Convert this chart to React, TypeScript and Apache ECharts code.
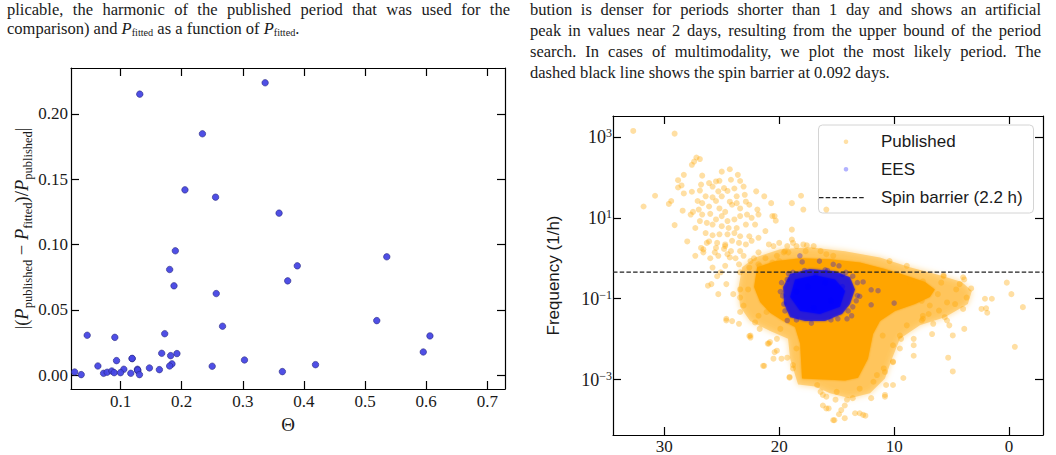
import React, { useEffect, useRef } from "react";
import * as echarts from "echarts";

// ---------- left panel: relative period deviation vs. Theta ----------
const thetaValues = [
  0.1315, 0.3366, 0.234, 0.2054, 0.2555, 0.3594, 0.1897, 0.5356, 0.1804, 0.3892,
  0.3735, 0.1875, 0.2566, 0.5192, 0.2669, 0.0455, 0.0907, 0.1723, 0.6062, 0.5953,
  0.1674, 0.1923, 0.182, 0.119, 0.119, 0.0935, 0.3028, 0.063, 0.419, 0.25,
  0.1842, 0.1804, 0.1473, 0.1636, 0.1054, 0.1277, 0.1282, 0.128, 0.025, 0.0357,
  0.0723, 0.0781, 0.0858, 0.0896, 0.1, 0.1168, 0.131, 0.3648,
];
const relDeviation = [
  0.215, 0.2237, 0.1847, 0.1418, 0.1362, 0.124, 0.0952, 0.0906, 0.0809, 0.0837,
  0.0722, 0.0684, 0.0625, 0.0418, 0.0375, 0.0306, 0.029, 0.0318, 0.0301, 0.0178,
  0.0168, 0.0166, 0.015, 0.0127, 0.0129, 0.0112, 0.0117, 0.0071, 0.0081, 0.0069,
  0.0087, 0.0071, 0.0056, 0.0043, 0.0046, 0.0046, 0.0035, 0.004, 0.0025, 0.0005,
  0.0015, 0.0023, 0.0033, 0.002, 0.002, 0.0015, 0.0005, 0.0028,
];
const thetaRange = [0.019, 0.729];
const deviationRange = [-0.0105, 0.235];
const thetaTicks = [0.1, 0.2, 0.3, 0.4, 0.5, 0.6, 0.7];
const deviationTicks = [0, 0.05, 0.1, 0.15, 0.2];

// ---------- right panel: frequency vs. magnitude ----------
const magRange = [-2.95, 34.46];
const freqRange = [4.3e-5, 3273];
const magTicks = [0, 10, 20, 30];
const freqTicks = [1e-3, 1e-1, 1e1, 1e3];
const spinBarrierHours = 2.2;

// outline of the saturated part of the published cloud
const publishedCore: [number, number][] = [
  [21.92, 0.6], [20.36, 0.84], [18.18, 1.0], [15.58, 0.94], [12.97, 0.79],
  [10.8, 0.54], [9.06, 0.38], [7.32, 0.26], [6.46, 0.17], [6.89, 0.11],
  [8.19, 0.074], [9.93, 0.05], [11.23, 0.028], [11.84, 0.0134], [12.28, 0.0033],
  [13.14, 0.00112], [14.27, 0.00095], [18.01, 0.00107], [18.18, 0.0078],
  [18.62, 0.02], [19.66, 0.028], [20.79, 0.045], [21.66, 0.083], [22.18, 0.195],
];
// outline of the overlapping (semi-dense) fringe of the published cloud
const publishedFringe: [number, number][] = [
  [23.57, 0.17], [23.22, 0.6], [22.09, 1.05], [19.92, 1.66], [17.32, 1.86],
  [14.27, 1.48], [11.23, 1.05], [8.63, 0.6], [6.02, 0.38], [4.11, 0.26],
  [3.24, 0.155], [3.59, 0.074], [5.59, 0.035], [7.76, 0.022], [9.5, 0.0102],
  [10.19, 0.0033], [10.8, 0.00107], [12.1, 0.00046], [13.84, 0.00035],
  [15.58, 0.00046], [16.88, 0.00068], [18.36, 0.00076], [19.05, 0.0033],
  [19.23, 0.0102], [20.79, 0.016], [22.53, 0.028], [23.4, 0.063],
];
// outline of the EES cluster and of its densest part
const eesCluster: [number, number][] = [
  [19.05, 0.41], [17.32, 0.54], [15.14, 0.48], [13.84, 0.34], [13.41, 0.17],
  [13.84, 0.074], [14.53, 0.042], [16.01, 0.028], [17.75, 0.028], [19.05, 0.035],
  [19.57, 0.074], [19.66, 0.195],
];
const eesDense: [number, number][] = [
  [18.62, 0.3], [16.88, 0.38], [15.14, 0.3], [14.27, 0.155], [14.71, 0.063],
  [16.45, 0.042], [18.18, 0.05], [19.05, 0.11],
];

const publishedPoints: [number, number][] = [
  [32.7, 1400], [29.1, 1200], [27.4, 245], [26.9, 282], [27.6, 204], [27.2, 309],
  [25.0, 138], [24.3, 158], [23.6, 115], [28.3, 115], [26.7, 110], [28.8, 85],
  [28.5, 63], [28.8, 56], [28.3, 40], [30.8, 35], [31.8, 19], [29.4, 26], [29.6, 22],
  [28.4, 15], [29.1, 6.6], [28.0, 2.6],
  [26.1, 72], [25.5, 79], [25.2, 82], [24.2, 87], [23.4, 81], [26.8, 66], [27.6, 44],
  [26.9, 47], [25.8, 59], [24.8, 54], [23.9, 53], [23.1, 59], [26.4, 34], [25.3, 45],
  [24.5, 46], [23.7, 34], [23.0, 37], [22.0, 45],
  [27.1, 26], [26.7, 23], [25.8, 32], [25.5, 26], [25.0, 34], [24.3, 25], [23.7, 23],
  [22.9, 25], [22.6, 21], [21.9, 16], [21.3, 34], [20.7, 23], [26.1, 19], [25.2, 17],
  [24.7, 14], [24.1, 21], [23.4, 17], [27.0, 16], [27.7, 12], [27.5, 14],
  [26.7, 12], [26.0, 12.5], [25.5, 9.1], [25.0, 11], [24.5, 8.3], [23.9, 9.1],
  [23.4, 11], [22.8, 12], [22.4, 10], [21.8, 12], [20.6, 11], [20.3, 8.5], [26.9, 8.3],
  [26.3, 7.5], [25.8, 6.8], [25.0, 6.2], [24.4, 5.6], [23.7, 5.6], [22.9, 6.8],
  [22.1, 6.8], [21.2, 4.7], [27.3, 5.6],
  [26.4, 4.2], [25.8, 3.7], [25.2, 3.9], [24.5, 3.9], [23.9, 4.2], [23.4, 3.5],
  [22.6, 3.5], [21.8, 3.2], [26.1, 2.6], [25.4, 2.4], [24.7, 2.2], [24.1, 2.7],
  [23.5, 2.4], [22.9, 2.2], [22.4, 2.7], [26.8, 1.8], [25.5, 1.8], [24.8, 1.7],
  [24.2, 1.5], [20.0, 2.4], [19.5, 1.5], [18.9, 2.9], [18.9, 5.1],
  [27.3, 1.15], [26.6, 1.4], [26.0, 1.0], [25.3, 1.15], [24.5, 1.26], [23.8, 1.0],
  [23.1, 1.15], [22.5, 0.85], [25.8, 0.59], [24.7, 0.65], [23.5, 0.71], [22.6, 0.59],
  [21.8, 0.71], [21.2, 1.0], [20.6, 0.78], [20.0, 0.85], [18.9, 23], [18.1, 35],
  [17.9, 16], [19.2, 1.4], [17.7, 1.5], [15.9, 16], [20.4, 11],
  [20.5, 2.0], [19.6, 1.4], [18.8, 2.4], [17.9, 2.2], [17.0, 2.0], [16.4, 1.5],
  [15.3, 1.15], [14.1, 0.71], [18.2, 0.78],
  [10.4, 0.85], [8.9, 0.65], [5.7, 0.36], [4.0, 0.34], [0.2, 0.25],
  [26.3, 2.4], [25.6, 1.4], [24.7, 2.0], [24.3, 1.05], [23.4, 1.5], [21.8, 1.4],
  [21.7, 0.65], [19.3, 2.0], [18.5, 2.0], [17.6, 2.1], [15.9, 1.26], [13.3, 0.65],
  [9.5, 0.36], [8.6, 0.27], [25.1, 0.45], [26.2, 0.21], [23.4, 0.107],
  [25.4, 0.36], [23.4, 0.45], [23.1, 0.068], [22.7, 0.17], [24.0, 0.13], [24.6, 0.029],
  [23.5, 0.024], [22.5, 0.0123], [21.8, 0.038], [22.2, 1.0], [20.9, 2.2], [20.2, 1.15],
  [26.6, 1.66],
  [-0.2, 0.13], [-1.2, 0.062], [-0.5, 0.0065], [2.1, 0.1], [1.5, 0.1], [2.4, 0.056],
  [1.9, 0.045], [3.9, 0.3], [3.3, 0.18], [3.7, 0.107], [4.0, 0.056], [5.2, 0.022],
  [3.9, 0.018], [4.9, 0.0124], [6.7, 0.0134], [8.3, 0.0102], [5.3, 0.0035],
  [8.3, 0.0039], [5.7, 0.38], [7.5, 0.27], [4.3, 0.23], [6.1, 0.051], [5.4, 0.029],
  [7.0, 0.042], [7.6, 0.029], [6.6, 0.024],
  [5.9, 0.25], [4.6, 0.17], [5.4, 0.081], [6.9, 0.068], [6.2, 0.13], [7.6, 0.089],
  [4.7, 0.074], [7.5, 0.038], [8.9, 0.022], [9.5, 0.0123], [10.1, 0.0071],
  [2.0, 0.058], [4.9, 0.0016], [9.2, 0.0011], [10.8, 0.00038], [10.1, 0.00074],
  [11.8, 0.00089], [12.7, 0.000135], [13.4, 0.000148], [15.3, 0.0001],
  [15.9, 0.000195], [14.6, 0.000178], [14.1, 0.00032], [16.2, 0.00042], [15.0, 0.0005],
  [19.1, 0.00112], [18.8, 0.0019], [21.4, 0.0022], [22.6, 0.012], [24.6, 0.032],
  [24.1, 0.028], [25.3, 0.13], [25.9, 0.23], [21.7, 0.145], [23.4, 0.047],
  [22.1, 0.026], [20.8, 0.0085], [20.5, 0.0033], [19.9, 0.018], [10.8, 0.00155],
  [8.3, 0.0071], [11.0, 0.0123], [10.1, 0.0027], [5.6, 0.035], [7.5, 0.032],
  [20.4, 0.0048], [21.0, 0.0078], [19.8, 0.0033], [21.3, 0.0022], [19.1, 0.00117],
  [18.8, 0.0023], [18.5, 0.0059], [10.7, 0.00074], [11.5, 0.0013], [10.1, 0.0028],
  [9.5, 0.0059], [10.8, 0.00042], [9.4, 0.0102], [10.9, 0.0019], [16.4, 0.0005],
  [15.9, 0.00038], [15.1, 0.00032], [14.3, 0.00023], [13.6, 0.00035],
  [15.7, 0.000195], [14.8, 0.00014], [15.2, 0.0001], [14.3, 0.000112],
  [13.0, 0.000148], [12.5, 0.000129], [12.0, 0.00035], [16.2, 0.00023],
  [16.7, 0.00074], [13.0, 0.0006],
  [24.6, 0.23], [23.4, 0.17], [22.5, 0.011], [20.9, 0.0078], [20.2, 0.0102],
  [20.2, 0.0052], [19.3, 0.0035], [21.7, 0.018], [21.1, 0.047],
];

const eesPoints: [number, number][] = [
  [18.2, 1.15], [18.0, 0.81], [16.5, 0.85], [15.3, 0.71], [14.8, 0.65], [12.7, 0.26],
  [12.0, 0.166], [11.4, 0.158], [13.0, 0.115], [12.0, 0.071], [10.0, 0.078],
  [14.1, 0.032], [14.9, 0.032], [19.3, 0.029], [19.6, 0.074], [19.7, 0.117],
  [19.3, 0.3], [13.6, 0.36], [13.7, 0.038], [13.3, 0.089], [13.6, 0.063],
  [17.5, 0.2], [16.0, 0.25], [18.5, 0.15], [15.5, 0.09], [17.0, 0.06], [14.5, 0.2],
  [16.8, 0.4], [18.8, 0.45], [15.8, 0.5], [14.2, 0.45],
  [19.8, 0.25], [19.9, 0.15], [19.5, 0.05], [18.5, 0.03], [17.2, 0.025], [15.5, 0.03],
  [14.0, 0.05], [13.2, 0.12], [13.2, 0.25], [14.5, 0.4], [16.0, 0.52], [17.8, 0.5],
  [19.2, 0.42],
];

const SERIF = '"Liberation Serif", "Times New Roman", serif';
const SANS = '"Liberation Sans", Arial, sans-serif';
const INK = "#1a1a1a";

const axisLine = { show: true, onZero: false, lineStyle: { color: "#000", width: 1.2 } };
const tickStyle = { color: "#000", width: 1.2 };

function frameAxis(base: any, ticks: number[], position: string) {
  return {
    ...base,
    position,
    axisLine,
    axisTick: { show: true, inside: true, length: 8, customValues: ticks, lineStyle: tickStyle },
    axisLabel: { show: false },
    splitLine: { show: false },
  };
}

// filled outline drawn in data space on the right panel's axes
function outlineSeries(
  pts: [number, number][],
  fill: string,
  opacity: number,
  z: number,
  blur: number,
) {
  return {
    type: "custom",
    xAxisIndex: 2,
    yAxisIndex: 2,
    z,
    silent: true,
    data: pts,
    encode: { x: 0, y: 1 },
    renderItem: (params: any, api: any) => {
      if (params.dataIndex !== 0) return { type: "group", children: [] };
      return {
        type: "polygon",
        shape: { points: pts.map((p) => api.coord(p)) },
        style: { fill, opacity, shadowBlur: blur, shadowColor: fill },
      };
    },
  };
}

function supExp(v: number) {
  const e = Math.round(Math.log10(v));
  return `{b|10}{s|${e < 0 ? "\u2212" + -e : e}}`;
}

const Sub = ({ children }: { children: React.ReactNode }) => (
  <span style={{ fontSize: "0.62em", position: "relative", top: "0.28em" }}>{children}</span>
);

const lineBox = (
  top: number,
  left: number,
  width: number,
  justify: boolean,
  lh = 21,
): React.CSSProperties => ({
  position: "absolute",
  top,
  left,
  width,
  height: lh,
  lineHeight: `${lh}px`,
  fontFamily: SERIF,
  fontSize: 16.5,
  color: INK,
  whiteSpace: "nowrap",
  textAlign: justify ? "justify" : "left",
  textAlignLast: justify ? "justify" : "left",
});

export default function App() {
  const ref = useRef<HTMLDivElement>(null);

  useEffect(() => {
    if (!ref.current) return;
    const chart = echarts.init(ref.current, undefined, { renderer: "svg" });
    const leftX = { gridIndex: 0, type: "value", min: thetaRange[0], max: thetaRange[1] };
    const leftY = { gridIndex: 0, type: "value", min: deviationRange[0], max: deviationRange[1] };
    const rightX = { gridIndex: 1, type: "value", inverse: true, min: magRange[0], max: magRange[1] };
    const rightY = { gridIndex: 1, type: "log", logBase: 10, min: freqRange[0], max: freqRange[1] };
    const barrierFreq = 1 / spinBarrierHours;

    chart.setOption({
      animation: false,
      backgroundColor: "#fff",
      grid: [
        { left: 71, top: 68, width: 434, height: 321 },
        { left: 613, top: 116, width: 430, height: 321 },
      ],
      xAxis: [
        {
          ...leftX,
          position: "bottom",
          axisLine,
          axisTick: { show: true, inside: true, length: 8, customValues: thetaTicks, lineStyle: tickStyle },
          axisLabel: {
            customValues: thetaTicks,
            formatter: (v: number) => v.toFixed(1),
            color: INK,
            fontFamily: SERIF,
            fontSize: 17,
            margin: 4,
          },
          splitLine: { show: false },
          name: "\u0398",
          nameLocation: "middle",
          nameGap: 19,
          nameTextStyle: { fontFamily: SERIF, fontSize: 19, color: INK },
        },
        frameAxis(leftX, thetaTicks, "top"),
        {
          ...rightX,
          position: "bottom",
          axisLine,
          axisTick: { show: true, inside: true, length: 8, customValues: magTicks, lineStyle: tickStyle },
          axisLabel: {
            customValues: magTicks,
            color: INK,
            fontFamily: SERIF,
            fontSize: 17,
            margin: 3,
          },
          splitLine: { show: false },
        },
        frameAxis(rightX, magTicks, "top"),
      ],
      yAxis: [
        {
          ...leftY,
          position: "left",
          axisLine,
          axisTick: { show: true, inside: true, length: 8, customValues: deviationTicks, lineStyle: tickStyle },
          axisLabel: {
            customValues: deviationTicks,
            formatter: (v: number) => v.toFixed(2),
            color: INK,
            fontFamily: SERIF,
            fontSize: 17,
            margin: 3,
          },
          splitLine: { show: false },
          name:
            "{t||(}{i|P}{s|published}{t| \u2212 }{i|P}{s|fitted}{t|)/}{i|P}{s|published}{t||}",
          nameLocation: "middle",
          nameRotate: 90,
          nameGap: 37,
          nameTextStyle: {
            rich: {
              t: { fontFamily: SERIF, fontSize: 18.5, color: INK, lineHeight: 24 },
              i: { fontFamily: SERIF, fontSize: 18.5, fontStyle: "italic", color: INK, lineHeight: 24 },
              s: { fontFamily: SERIF, fontSize: 12.5, color: INK, lineHeight: 12, verticalAlign: "bottom" },
            },
          },
        },
        frameAxis(leftY, deviationTicks, "right"),
        {
          ...rightY,
          position: "left",
          axisLine,
          axisTick: { show: true, inside: true, length: 8, customValues: freqTicks, lineStyle: tickStyle },
          axisLabel: {
            customValues: freqTicks,
            formatter: supExp,
            margin: 1,
            rich: {
              b: { fontFamily: SERIF, fontSize: 18, color: INK, lineHeight: 20 },
              s: { fontFamily: SERIF, fontSize: 12, color: INK, lineHeight: 12, verticalAlign: "top" },
            },
          },
          splitLine: { show: false },
          name: "Frequency (1/h)",
          nameLocation: "middle",
          nameRotate: 90,
          nameGap: 51,
          nameTextStyle: { fontFamily: SANS, fontSize: 17, color: INK },
        },
        frameAxis(rightY, freqTicks, "right"),
      ],
      series: [
        {
          name: "deviation",
          type: "scatter",
          xAxisIndex: 0,
          yAxisIndex: 0,
          symbolSize: 6.5,
          data: thetaValues.map((t, i) => [t, relDeviation[i]]),
          itemStyle: { color: "#4646e4", opacity: 0.95, borderColor: "#24247a", borderWidth: 0.6 },
        },
        outlineSeries(publishedFringe, "#FFA500", 0.4, 1, 6),
        outlineSeries(publishedCore, "#FFA500", 1, 2, 2),
        {
          name: "Published",
          type: "scatter",
          xAxisIndex: 2,
          yAxisIndex: 2,
          z: 3,
          symbolSize: 6,
          data: publishedPoints,
          itemStyle: { color: "#FFA500", opacity: 0.36 },
        },
        outlineSeries(eesCluster, "#0000FF", 0.6, 4, 2),
        outlineSeries(eesDense, "#0000FF", 0.7, 5, 2),
        {
          name: "EES",
          type: "scatter",
          xAxisIndex: 2,
          yAxisIndex: 2,
          z: 6,
          symbolSize: 5.5,
          data: eesPoints,
          itemStyle: { color: "#0000FF", opacity: 0.3 },
        },
        {
          name: "Spin barrier (2.2 h)",
          type: "line",
          xAxisIndex: 2,
          yAxisIndex: 2,
          z: 7,
          symbol: "none",
          data: [
            [magRange[1], barrierFreq],
            [magRange[0], barrierFreq],
          ],
          lineStyle: { color: "#222", width: 1.2, type: [4.5, 2.2] },
        },
      ],
      graphic: [
        {
          type: "group",
          z: 100,
          children: [
            {
              type: "rect",
              shape: { x: 818.5, y: 125, width: 215, height: 88, r: 4 },
              style: { fill: "rgba(255,255,255,0.85)", stroke: "#d4d4d4", lineWidth: 1 },
            },
            { type: "circle", shape: { cx: 846, cy: 141.7, r: 2.3 }, style: { fill: "#FFA500", opacity: 0.35 } },
            {
              type: "text",
              x: 881,
              y: 141.7,
              style: { text: "Published", font: `17px ${SANS}`, fill: INK, verticalAlign: "middle" },
            },
            { type: "circle", shape: { cx: 846, cy: 169.3, r: 2.3 }, style: { fill: "#0000FF", opacity: 0.3 } },
            {
              type: "text",
              x: 881,
              y: 169.3,
              style: { text: "EES", font: `17px ${SANS}`, fill: INK, verticalAlign: "middle" },
            },
            {
              type: "line",
              shape: { x1: 819, y1: 197.7, x2: 865, y2: 197.7 },
              style: { stroke: "#222", lineWidth: 1.2, lineDash: [4.5, 2.2] },
            },
            {
              type: "text",
              x: 881,
              y: 197.7,
              style: { text: "Spin barrier (2.2 h)", font: `17px ${SANS}`, fill: INK, verticalAlign: "middle" },
            },
          ],
        },
      ],
    });
    return () => chart.dispose();
  }, []);

  return (
    <div
      style={{
        position: "fixed",
        left: 0,
        top: 0,
        width: 1056,
        height: 455,
        overflow: "hidden",
        background: "#fff",
      }}
    >
      <div ref={ref} style={{ position: "absolute", left: 0, top: 0, width: 1056, height: 455 }} />
      <div style={{ position: "absolute", left: 0, top: 0, width: 1056, height: 90, pointerEvents: "none" }}>
        <div style={lineBox(3, 7, 503, true, 13)}>
          plicable, the harmonic of the published period that was used for the
        </div>
        <div style={lineBox(17.5, 7, 503, false)}>
          comparison) and <i>P</i>
          <Sub>fitted</Sub> as a function of <i>P</i>
          <Sub>fitted</Sub>.
        </div>
        <div style={lineBox(2, 530, 511, true, 15)}>
          bution is denser for periods shorter than 1 day and shows an artificial
        </div>
        <div style={lineBox(19.5, 530, 511, true)}>
          peak in values near 2 days, resulting from the upper bound of the period
        </div>
        <div style={lineBox(40.5, 530, 511, true)}>
          search. In cases of multimodality, we plot the most likely period. The
        </div>
        <div style={lineBox(61.5, 530, 511, false)}>
          dashed black line shows the spin barrier at 0.092 days.
        </div>
      </div>
    </div>
  );
}
